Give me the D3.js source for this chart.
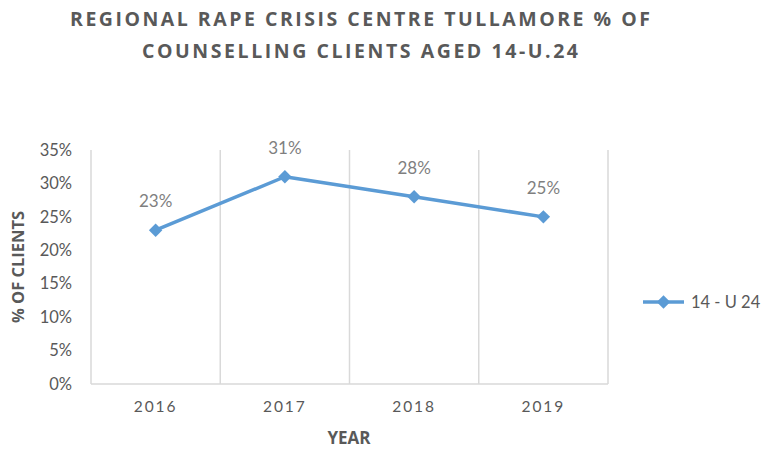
<!DOCTYPE html>
<html><head><meta charset="utf-8">
<script src="https://cdn.jsdelivr.net/npm/d3@7"></script>
<style>body{margin:0;background:#fff}svg{display:block}</style>
</head><body>
<script>
const years = ["2016","2017","2018","2019"];
const values = [0.23, 0.31, 0.28, 0.25];
const yTicks = [0,0.05,0.10,0.15,0.20,0.25,0.30,0.35];
const seriesName = "14 - U 24";
const titleLines = ["REGIONAL RAPE CRISIS CENTRE TULLAMORE % OF","COUNSELLING CLIENTS AGED 14-U.24"];

const W=772,H=450;
const svg=d3.select("body").append("svg").attr("width",W).attr("height",H);
const m={left:91,right:608,top:150,bottom:384};
const x=d3.scaleBand().domain(years).range([m.left,m.right]);
const y=d3.scaleLinear().domain([0,0.35]).range([m.bottom,m.top]);
const grey="#595959", grid="#D9D9D9", blue="#5B9BD5";
const font="Lato, 'Open Sans', sans-serif";

// title
svg.selectAll("text.title").data(titleLines).join("text")
  .attr("x",360).attr("y",(d,i)=>26+i*32).attr("text-anchor","middle")
  .attr("font-family","'Open Sans', sans-serif").attr("font-weight","bold")
  .attr("font-size",19.5).attr("fill",grey)
  .attr("textLength",(d,i)=>i===0?580:436).attr("lengthAdjust","spacing")
  .text(d=>d);

// vertical gridlines at category boundaries
const bounds = years.map(d=>x(d)).concat([m.right]);
svg.selectAll("line.grid").data(bounds).join("line")
  .attr("x1",d=>d).attr("x2",d=>d).attr("y1",m.top).attr("y2",m.bottom)
  .attr("stroke",grid).attr("stroke-width",1.5);
svg.append("line").attr("x1",m.left).attr("x2",m.right).attr("y1",m.bottom).attr("y2",m.bottom)
  .attr("stroke",grid).attr("stroke-width",1.5);

// y axis
const yAxis=d3.axisLeft(y).tickValues(yTicks).tickFormat(d3.format(".0%")).tickSize(0).tickPadding(19);
const gy=svg.append("g").attr("transform",`translate(${m.left},0)`).call(yAxis);
gy.select(".domain").remove();
gy.selectAll("text").attr("font-family",font).attr("font-size",16.5).attr("fill",grey);

// x axis
const xAxis=d3.axisBottom(x).tickSize(0).tickPadding(17);
const gx=svg.append("g").attr("transform",`translate(0,${m.bottom})`).call(xAxis);
gx.select(".domain").remove();
gx.selectAll("text").attr("font-family",font).attr("font-size",15.5).attr("fill",grey).attr("letter-spacing","2px");

// axis titles
svg.append("text").attr("transform",`translate(24,${(m.top+m.bottom)/2}) rotate(-90)`)
  .attr("text-anchor","middle").attr("font-family","'Open Sans', sans-serif").attr("font-weight","bold")
  .attr("font-size",16.5).attr("fill",grey).text("% OF CLIENTS");
svg.append("text").attr("x",349).attr("y",444).attr("text-anchor","middle")
  .attr("font-family","'Open Sans', sans-serif").attr("font-weight","bold")
  .attr("font-size",17).attr("fill",grey).text("YEAR");

// line
const cx=d=>x(d)+x.bandwidth()/2;
const line=d3.line().x((d,i)=>cx(years[i])).y(d=>y(d));
svg.append("path").datum(values).attr("d",line).attr("fill","none")
  .attr("stroke",blue).attr("stroke-width",3.5).attr("stroke-linejoin","round");
svg.selectAll("path.pt").data(values).join("path")
  .attr("transform",(d,i)=>`translate(${cx(years[i])},${y(d)}) rotate(45)`)
  .attr("d",d3.symbol().type(d3.symbolSquare).size(90)).attr("fill",blue);

// labels
svg.selectAll("text.lbl").data(values).join("text")
  .attr("x",(d,i)=>cx(years[i])).attr("y",d=>y(d)-23).attr("text-anchor","middle")
  .attr("font-family",font).attr("font-size",17).attr("fill","#7F7F7F")
  .text(d=>d3.format(".0%")(d));

// legend
const lg=svg.append("g").attr("transform","translate(643,302)");
lg.append("line").attr("x1",0).attr("x2",41).attr("stroke",blue).attr("stroke-width",3.5);
lg.append("path").attr("transform","translate(20.5,0) rotate(45)")
  .attr("d",d3.symbol().type(d3.symbolSquare).size(90)).attr("fill",blue);
lg.append("text").attr("x",48).attr("y",6).attr("font-family",font).attr("font-size",16.5)
  .attr("fill",grey).text(seriesName);
</script>
</body></html>
